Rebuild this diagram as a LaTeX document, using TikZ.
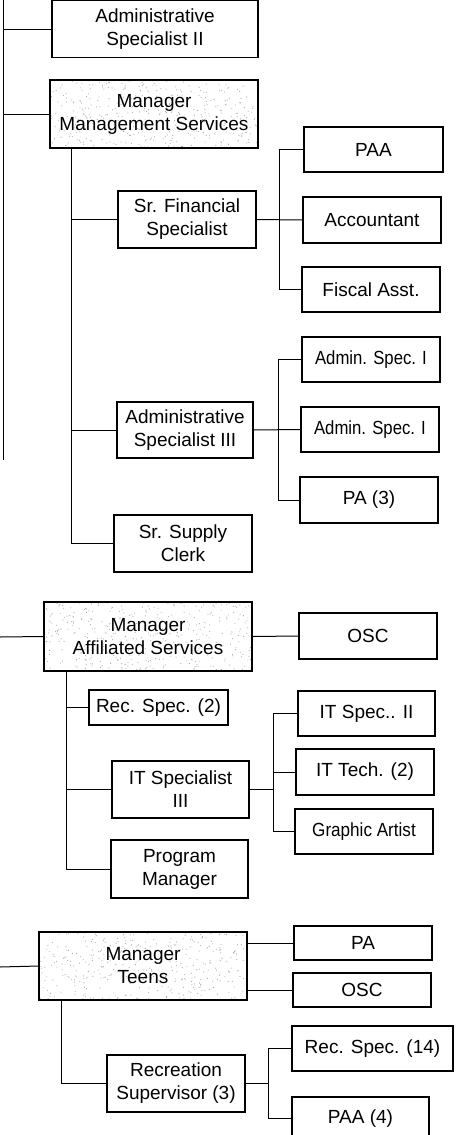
\documentclass[tikz,border=0pt]{standalone}
\usepackage{fontspec}
\usepackage{graphicx}
\setmainfont{Liberation Sans}
\usetikzlibrary{calc}
\tikzset{
  x=1pt, y=-1pt,
  unit/.style={draw=black, line width=1.1pt, fill=white, inner sep=0pt,
    align=center, font=\fontsize{19}{23}\selectfont},
  mgr/.style={unit, path picture={
      \foreach \i in {1,...,420}{
        \fill[gray!70] ($(path picture bounding box.north west)+({rnd*215},{rnd*72})$) circle (0.55pt);
      }}},
  link/.style={draw=black, line width=1pt},
}
\newcommand{\narrow}[2]{\scalebox{#1}[1]{#2}}
\begin{document}
\begin{tikzpicture}
\pgfmathsetseed{7}
\useasboundingbox (0,0) rectangle (471,1135);

% ---------- Management Services branch ----------
\node[unit, minimum width=206pt, minimum height=57pt] (as2) at (155,29) {Administrative\\Specialist II};
\node[mgr, minimum width=208pt, minimum height=68pt] (mms) at (154,114) {Manager\\Management Services};
\node[unit, minimum width=138pt, minimum height=57pt] (sfs) at (187,219.5) {Sr. Financial\\Specialist};
\node[unit, minimum width=139pt, minimum height=45pt] (paa) at (373.5,149.5) {PAA};
\node[unit, minimum width=138pt, minimum height=46pt] (acc) at (372,220) {Accountant};
\node[unit, minimum width=138pt, minimum height=45pt] (fis) at (371,289.5) {Fiscal Asst.};
\node[unit, minimum width=138pt, minimum height=45pt] (asa) at (371,359.5) {\narrow{0.88}{Admin. Spec. I}};
\node[unit, minimum width=136pt, minimum height=56pt] (as3) at (185,430) {Administrative\\Specialist III};
\node[unit, minimum width=138pt, minimum height=45pt] (asb) at (370,429.5) {\narrow{0.88}{Admin. Spec. I}};
\node[unit, minimum width=138pt, minimum height=46pt] (pa3) at (369,500) {PA (3)};
\node[unit, minimum width=138pt, minimum height=57pt] (ssc) at (183,543.5) {Sr. Supply\\Clerk};

% ---------- Affiliated Services branch ----------
\node[mgr, minimum width=208pt, minimum height=69pt] (mas) at (148,636.5) {Manager\\Affiliated Services};
\node[unit, minimum width=138pt, minimum height=46pt] (osca) at (368,636) {OSC};
\node[unit, minimum width=139pt, minimum height=35pt] (rs2) at (158.5,707.5) {Rec. Spec. (2)};
\node[unit, minimum width=137pt, minimum height=57pt] (its3) at (180.5,789.5) {IT Specialist\\III};
\node[unit, minimum width=137pt, minimum height=58pt] (pm) at (179.5,869) {Program\\Manager};
\node[unit, minimum width=137pt, minimum height=45pt] (its2) at (366.5,713.5) {IT Spec.. II};
\node[unit, minimum width=138pt, minimum height=46pt] (itt) at (365,772) {IT Tech. (2)};
\node[unit, minimum width=138pt, minimum height=45pt] (ga) at (364,831.5) {\narrow{0.9}{Graphic Artist}};

% ---------- Teens branch ----------
\node[mgr, minimum width=208pt, minimum height=68pt] (mt) at (143,966) {Manager\\Teens};
\node[unit, minimum width=138pt, minimum height=34pt] (pa) at (363,943) {PA};
\node[unit, minimum width=138pt, minimum height=34pt] (oscb) at (362,990) {OSC};
\node[unit, minimum width=138pt, minimum height=57pt] (rsup) at (176,1083.5) {Recreation\\Supervisor (3)};
\node[unit, minimum width=161pt, minimum height=45pt] (rs14) at (372.5,1048.5) {Rec. Spec. (14)};
\node[unit, minimum width=137pt, minimum height=43pt] (paa4) at (360.5,1118.5) {PAA (4)};

% ---------- free ends of the main trunk ----------
\coordinate (top) at (3,0);
\coordinate (bot) at (3,460);
\coordinate (inA) at (0,637);
\coordinate (inT) at (0,967);

% ---------- connectors ----------
\begin{scope}[link]
  % main trunk
  \draw (top) -- (bot);
  \draw (top |- as2.west) -- (as2.west);
  \draw (top |- mms.west) -- (mms.west);
  \draw (inA) -- (mas.west);
  \draw (inT) -- (mt.west);

  % Management Services
  \draw (mms.south -| 71,0) -- (71,543.5) -- (ssc.west);
  \draw (71,219.5) -- (sfs.west);
  \draw (71,430) -- (as3.west);
  \draw (sfs.east) -- (acc.west);
  \draw (paa.west) -- (279,149.5) -- (279,289.5) -- (fis.west);
  \draw (as3.east) -- (asb.west);
  \draw (asa.west) -- (278,359.5) -- (278,500) -- (pa3.west);

  % Affiliated Services
  \draw (mas.east) -- (osca.west);
  \draw (mas.south -| 66,0) -- (66,869) -- (pm.west);
  \draw (66,707.5) -- (rs2.west);
  \draw (66,789.5) -- (its3.west);
  \draw (its3.east) -- (273,789.5);
  \draw (its2.west) -- (273,713.5) -- (273,831.5) -- (ga.west);
  \draw (273,772) -- (itt.west);

  % Teens
  \draw (mt.east |- pa.west) -- (pa.west);
  \draw (mt.east |- oscb.west) -- (oscb.west);
  \draw (mt.south -| 61,0) -- (61,1083.5) -- (rsup.west);
  \draw (rsup.east) -- (268,1083.5);
  \draw (rs14.west) -- (268,1048.5) -- (268,1118.5) -- (paa4.west);
\end{scope}
\end{tikzpicture}
\end{document}
